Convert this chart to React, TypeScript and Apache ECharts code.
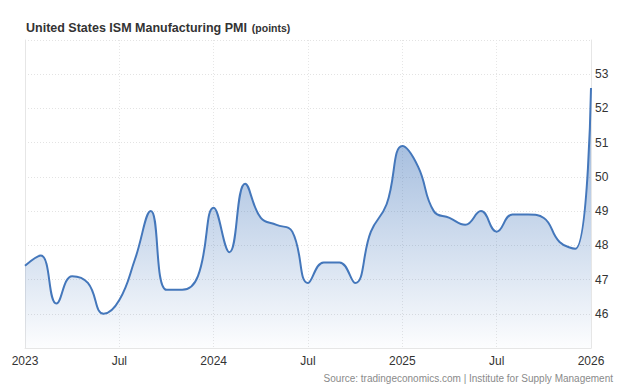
import React, { useEffect, useRef } from "react";
import * as echarts from "echarts";

const months = [
  "2023-01", "2023-02", "2023-03", "2023-04", "2023-05", "2023-06",
  "2023-07", "2023-08", "2023-09", "2023-10", "2023-11", "2023-12",
  "2024-01", "2024-02", "2024-03", "2024-04", "2024-05", "2024-06",
  "2024-07", "2024-08", "2024-09", "2024-10", "2024-11", "2024-12",
  "2025-01", "2025-02", "2025-03", "2025-04", "2025-05", "2025-06",
  "2025-07", "2025-08", "2025-09", "2025-10", "2025-11", "2025-12",
  "2026-01",
];

const pmi = [
  47.4, 47.7, 46.3, 47.1, 46.9, 46.0, 46.4, 47.6, 49.0, 46.7, 46.7, 47.1,
  49.1, 47.8, 49.8, 48.8, 48.6, 48.4, 46.9, 47.5, 47.5, 46.9, 48.4, 49.2,
  50.9, 50.3, 49.0, 48.8, 48.6, 49.0, 48.4, 48.9, 48.9, 48.8, 48.1, 47.9,
  52.6,
];

const titleText = "United States ISM Manufacturing PMI";
const unitText = "(points)";
const sourceText = "Source: tradingeconomics.com | Institute for Supply Management";

const FONT = "'Liberation Sans', Arial, sans-serif";

export default function App() {
  const ref = useRef<HTMLDivElement>(null);

  useEffect(() => {
    if (!ref.current) return;
    const chart = echarts.init(ref.current, null, { renderer: "svg" });
    const showIdx = (i: number) => i % 6 === 0;
    chart.setOption({
      animation: false,
      backgroundColor: "#ffffff",
      textStyle: { fontFamily: FONT },
      title: {
        text: `{t|${titleText}} {u|${unitText}}`,
        left: 21,
        top: 14,
        textStyle: {
          rich: {
            t: { fontFamily: FONT, fontSize: 12.5, fontWeight: "bold", color: "#333333" },
            u: { fontFamily: FONT, fontSize: 10.5, fontWeight: "bold", color: "#333333" },
          },
        },
      },
      graphic: [
        {
          type: "text",
          right: 11,
          top: 373,
          style: {
            text: sourceText,
            fontFamily: FONT,
            fontSize: 10,
            fill: "#8a8a8a",
          },
        },
      ],
      grid: { left: 25, right: 33, top: 40, bottom: 40 },
      xAxis: {
        type: "category",
        data: months,
        boundaryGap: false,
        axisLine: { show: true, lineStyle: { color: "#e6e6e6", width: 1 } },
        axisTick: { show: false },
        axisLabel: {
          interval: (i: number) => showIdx(i),
          color: "#333333",
          fontSize: 12,
          margin: 7,
          fontFamily: FONT,
          formatter: (v: string) => {
            const [y, m] = v.split("-");
            return m === "01" ? y : "Jul";
          },
        },
        splitLine: {
          show: true,
          interval: (i: number) => showIdx(i) && i !== 0 && i !== months.length - 1,
          lineStyle: { color: "#e6e6e6", type: [1, 2], width: 1 },
        },
      },
      yAxis: [
        {
          type: "value",
          position: "right",
          min: 45,
          max: 54,
          interval: 1,
          axisLine: { show: true, lineStyle: { color: "#e6e6e6" } },
          axisTick: { show: false },
          axisLabel: {
            showMinLabel: false,
            showMaxLabel: false,
            color: "#333333",
            fontSize: 12,
            margin: 4,
            fontFamily: FONT,
          },
          splitLine: {
            show: true,
            lineStyle: { color: "#e3e3e3", type: [1, 2], width: 1 },
          },
        },
        {
          type: "value",
          position: "left",
          min: 45,
          max: 54,
          interval: 1,
          axisLine: { show: true, lineStyle: { color: "#e6e6e6" } },
          axisTick: { show: false },
          axisLabel: { show: false },
          splitLine: { show: false },
        },
      ],
      series: [
        {
          type: "line",
          data: pmi,
          yAxisIndex: 0,
          smooth: 0.45,
          symbol: "none",
          lineStyle: { color: "#4477bb", width: 2 },
          areaStyle: {
            color: new echarts.graphic.LinearGradient(0, 0, 0, 1, [
              { offset: 0, color: "rgba(68,119,187,0.85)" },
              { offset: 1, color: "rgba(68,119,187,0.02)" },
            ]),
          },
        },
      ],
    });
    return () => chart.dispose();
  }, []);

  return <div ref={ref} style={{ width: 624, height: 388, position: "absolute", left: 0, top: 0 }} />;
}
